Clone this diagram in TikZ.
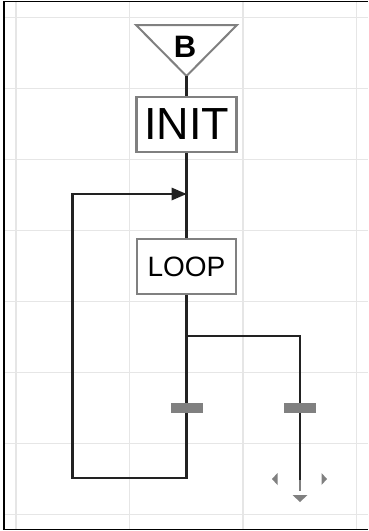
\documentclass[tikz,border=0pt]{standalone}
\usepackage{fontspec}
\setmainfont{Liberation Sans}
\usetikzlibrary{arrows.meta}
\definecolor{gridc}{HTML}{E6E6E6}
\definecolor{boxc}{HTML}{808080}
\definecolor{wirec}{HTML}{222222}
\tikzset{
  gridline/.style={draw=gridc, line width=1.6pt},
  frameline/.style={draw=black, line width=1.8pt},
  blockbox/.style={draw=boxc, line width=2.4pt, fill=white, rectangle, inner sep=0pt},
  wire/.style={draw=wirec, line width=2.8pt},
  barmark/.style={fill=boxc, draw=none, rectangle, minimum width=32pt, minimum height=10pt, inner sep=0pt},
  tipmark/.style={fill=boxc, draw=none},
}
\begin{document}
\begin{tikzpicture}[x=1pt,y=-1pt]
\useasboundingbox (0,0) rectangle (368,531);
\fill[white] (0,0) rectangle (368,531);
% grid
\foreach \gx in {16,129.5,243,356.5} \draw[gridline] (\gx,2) -- (\gx,529);
\foreach \k in {0,...,7} \draw[gridline] (4,17.5+71*\k) -- (368,17.5+71*\k);
% frame
\draw[frameline] (368,1.5) -- (4,1.5) -- (4,529.5) -- (368,529.5);
% begin triangle
\draw[draw=boxc, line width=2pt, fill=white] (136,25) -- (237,25) -- (186.5,76) -- cycle;
\node[inner sep=0pt] (b) at (185,46.5) {\fontsize{31}{31}\selectfont\bfseries B};
\coordinate (bapex) at (186.5,76);
% blocks
\node[blockbox, minimum width=100pt, minimum height=55pt] (init) at (186.5,124.5) {\fontsize{45}{45}\selectfont INIT};
\node[blockbox, minimum width=99pt, minimum height=55pt] (loop) at (186.5,266.5) {\fontsize{28}{28}\selectfont LOOP};
% coordinates
\coordinate (merge) at (186.5,194);
\coordinate (split) at (186.5,336);
\coordinate (lbot) at (186.5,478);
\coordinate (lcorner) at (72.5,478);
\coordinate (ltop) at (72.5,194);
\coordinate (rtop) at (300,336);
\coordinate (rend) at (300,480);
\coordinate (rfade) at (300,491);
% wires
\draw[wire] (bapex) -- (init.north);
\draw[wire] (init.south) -- (loop.north);
\draw[wire, line join=miter] (loop.south) -- (lbot) -- (lcorner) -- (ltop) -- (merge);
\fill[wirec] (merge) -- ++(-15,-6.5) -- ++(0,13) -- cycle;
\draw[wire] (split) -- (rtop) -- (rend);
\draw[draw=boxc, line width=2.4pt] (rend) -- (rfade);
% bars
\node[barmark] (bar1) at (187,408) {};
\node[barmark] (bar2) at (300,408) {};
% end markers
\fill[tipmark] (272,479) -- (277.5,473) -- (277.5,485) -- cycle;
\fill[tipmark] (327,479) -- (321.5,473) -- (321.5,485) -- cycle;
\fill[tipmark] (292.5,495) -- (307.5,495) -- (300,502) -- cycle;
\end{tikzpicture}
\end{document}
